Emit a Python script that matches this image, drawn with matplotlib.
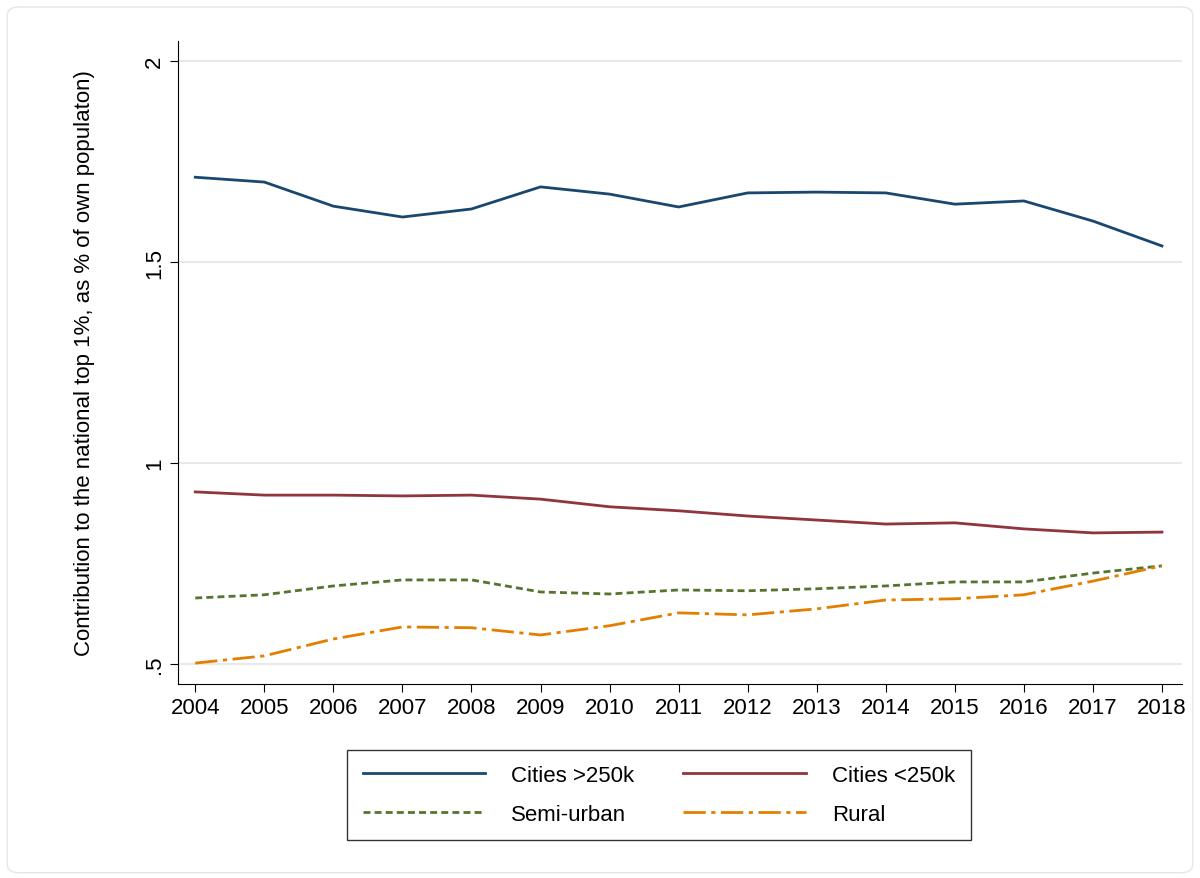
import matplotlib.pyplot as plt
from matplotlib.patches import FancyBboxPatch

years = list(range(2004, 2019))
cities_big = [1.711, 1.699, 1.639, 1.612, 1.632, 1.687, 1.669, 1.637, 1.672, 1.674, 1.672, 1.644, 1.652, 1.602, 1.540]
cities_small = [0.928, 0.920, 0.920, 0.918, 0.920, 0.910, 0.891, 0.881, 0.868, 0.858, 0.848, 0.851, 0.836, 0.826, 0.828]
semi_urban = [0.664, 0.672, 0.694, 0.709, 0.709, 0.679, 0.674, 0.684, 0.682, 0.687, 0.694, 0.704, 0.704, 0.726, 0.744]
rural = [0.502, 0.520, 0.562, 0.592, 0.590, 0.572, 0.595, 0.627, 0.622, 0.637, 0.659, 0.662, 0.672, 0.706, 0.744]

plt.rcParams['font.family'] = ['Liberation Sans', 'DejaVu Sans']

fig = plt.figure(figsize=(12, 8.79), dpi=100)
fig.patches.append(FancyBboxPatch((0.006, 0.006), 0.988, 0.985, boxstyle="round,pad=0,rounding_size=0.01",
                                  transform=fig.transFigure, fill=False, edgecolor='#e6e6e6', lw=1))
ax = fig.add_axes([178/1200, 1-685/879, (1182-178)/1200, (685-42)/879])

l1, = ax.plot(years, cities_big, color='#1a476f', lw=2, label='Cities >250k')
l2, = ax.plot(years, cities_small, color='#90353b', lw=2, label='Cities <250k')
l3, = ax.plot(years, semi_urban, color='#55752f', lw=2, ls=(0, (2.5, 1.5)), label='Semi-urban')
l4, = ax.plot(years, rural, color='#e37e00', lw=2, ls=(0, (8, 2, 1.5, 2)), label='Rural')

ax.set_xlim(2003.75, 2018.29)
ax.set_ylim(0.45, 2.05)
ax.set_xticks(years)
ax.set_yticks([0.5, 1, 1.5, 2])
ax.set_yticklabels(['.5', '1', '1.5', '2'], rotation=90, va='center')
ax.tick_params(labelsize=16, length=6, color='black')
ax.grid(axis='y', color='#e8e8e8', lw=1.5)
ax.set_axisbelow(True)
for s in ['top', 'right']:
    ax.spines[s].set_visible(False)
ax.set_ylabel('Contribution to the national top 1%, as % of own populaton)', fontsize=16, labelpad=35)

leg = fig.legend([l1, l3, l2, l4], [l.get_label() for l in (l1, l3, l2, l4)],
                 loc='center', bbox_to_anchor=(659/1200, 1-796/879), ncol=2, fontsize=16, frameon=True,
                 fancybox=False, edgecolor='black', handlelength=5.5, columnspacing=2.2, borderpad=0.7,
                 labelspacing=0.8, handletextpad=1.2)
leg.get_frame().set_linewidth(1)

fig.savefig('out.png')
